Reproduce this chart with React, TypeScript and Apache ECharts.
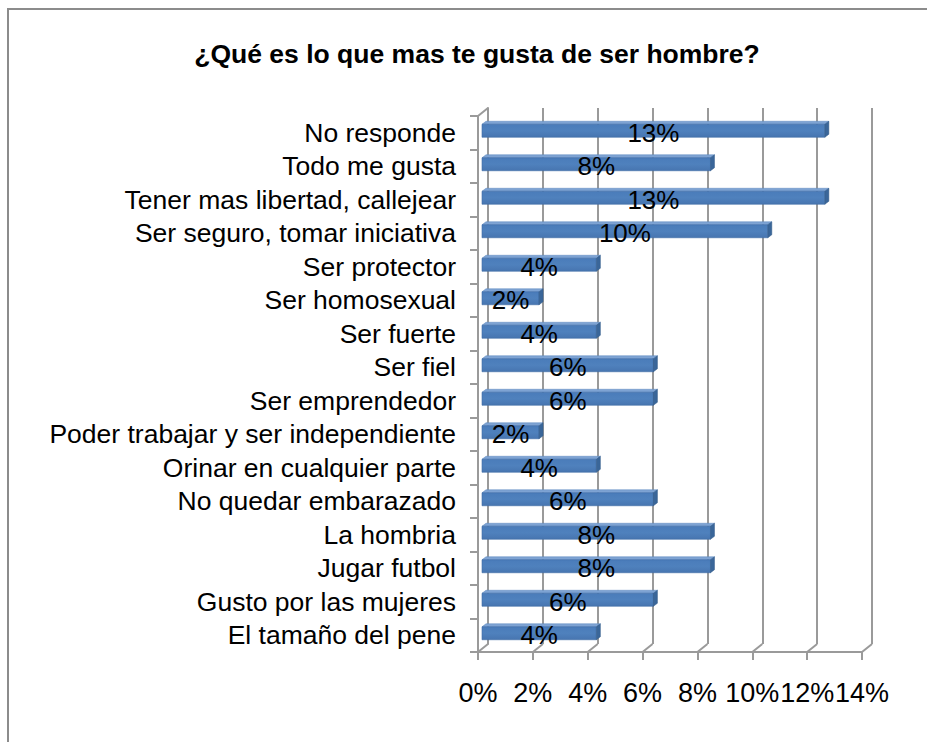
import React, { useEffect, useRef } from "react";
import * as echarts from "echarts";

const titleText = "¿Qué es lo que mas te gusta de ser hombre?";
const categories = [
  "No responde",
  "Todo me gusta",
  "Tener mas libertad, callejear",
  "Ser seguro, tomar iniciativa",
  "Ser protector",
  "Ser homosexual",
  "Ser fuerte",
  "Ser fiel",
  "Ser emprendedor",
  "Poder trabajar y ser independiente",
  "Orinar en cualquier parte",
  "No quedar embarazado",
  "La hombria",
  "Jugar futbol",
  "Gusto por las mujeres",
  "El tamaño del pene",
];
const values = [12.5, 8.33, 12.5, 10.42, 4.17, 2.08, 4.17, 6.25, 6.25, 2.08, 4.17, 6.25, 8.33, 8.33, 6.25, 4.17];
const xTicks = [0, 2, 4, 6, 8, 10, 12, 14];

const FONT = "'Liberation Sans', Arial, sans-serif";
const GRID_COLOR = "#9a9a9a";

export default function App() {
  const ref = useRef<HTMLDivElement>(null);
  useEffect(() => {
    if (!ref.current) return;
    const chart = echarts.init(ref.current, undefined, { renderer: "svg" });
    const last = categories.length - 1;
    const option: any = {
      animation: false,
      backgroundColor: "#ffffff",
      title: {
        text: titleText,
        left: 472,
        top: 35,
        textAlign: "center",
        textStyle: { fontFamily: FONT, fontSize: 26.5, fontWeight: "bold", color: "#000" },
      },
      graphic: [
        {
          type: "rect",
          shape: { x: 8, y: 9, width: 1200, height: 1200 },
          style: { fill: "none", stroke: "#8c8c8c", lineWidth: 2 },
          silent: true,
        },
      ],
      grid: [
        { left: 478, top: 116, width: 384, height: 536 },
        { left: 488, top: 108, width: 384, height: 536 },
      ],
      xAxis: [
        {
          gridIndex: 0,
          type: "value",
          min: 0,
          max: 14,
          interval: 2,
          axisLine: { show: true, lineStyle: { color: GRID_COLOR, width: 2 } },
          axisTick: { show: true, length: 8, lineStyle: { color: GRID_COLOR, width: 2 } },
          splitLine: { show: false },
          axisLabel: {
            formatter: "{value}%",
            margin: 27,
            fontFamily: FONT,
            fontSize: 27,
            color: "#000",
          },
        },
        {
          gridIndex: 1,
          type: "value",
          min: 0,
          max: 14,
          interval: 2,
          axisLine: { show: false },
          axisTick: { show: false },
          axisLabel: { show: false },
          splitLine: { show: true, lineStyle: { color: GRID_COLOR, width: 2 } },
        },
      ],
      yAxis: [
        {
          gridIndex: 0,
          type: "category",
          data: categories,
          inverse: true,
          axisLine: { show: true, lineStyle: { color: GRID_COLOR, width: 2 } },
          axisTick: { show: true, length: 8, interval: 0, lineStyle: { color: GRID_COLOR, width: 2 } },
          axisLabel: { interval: 0, margin: 22, fontFamily: FONT, fontSize: 26.5, color: "#000" },
        },
        {
          gridIndex: 1,
          type: "category",
          data: categories,
          inverse: true,
          axisLine: { show: true, lineStyle: { color: GRID_COLOR, width: 2 } },
          axisTick: { show: false },
          axisLabel: { show: false },
          splitLine: { show: false },
        },
      ],
      series: [
        {
          type: "custom",
          xAxisIndex: 0,
          yAxisIndex: 0,
          silent: true,
          data: [
            ...xTicks.map((t) => [t, last, 1]),
            [0, 0, 0],
          ],
          encode: { x: 0, y: 1 },
          renderItem: (params: any, api: any) => {
            const v = api.value(0);
            const ci = api.value(1);
            const bottom = api.value(2) === 1;
            const p = api.coord([v, ci]);
            const band = api.size([0, 1])[1];
            const y = bottom ? p[1] + band / 2 : p[1] - band / 2;
            return {
              type: "line",
              shape: { x1: p[0], y1: y, x2: p[0] + 10, y2: y - 8 },
              style: { stroke: GRID_COLOR, lineWidth: 2 },
            };
          },
          z: 3,
        },
        {
          type: "custom",
          xAxisIndex: 0,
          yAxisIndex: 0,
          silent: true,
          data: values.map((v, i) => [v, i]),
          encode: { x: 0, y: 1 },
          renderItem: (params: any, api: any) => {
            const v = api.value(0);
            const ci = api.value(1);
            const p0 = api.coord([0, ci]);
            const p1 = api.coord([v, ci]);
            const cy = p0[1];
            const x0 = p0[0] + 4;
            const x1 = p1[0] + 4;
            const yT = cy - 8.5;
            const yB = cy + 4.5;
            const d = 4;
            const dy = 3;
            return {
              type: "group",
              children: [
                {
                  type: "polygon",
                  shape: { points: [[x0, yT], [x1, yT], [x1 + d, yT - dy], [x0 + d, yT - dy]] },
                  style: { fill: "#7ea3d3", stroke: "#5b87bf", lineWidth: 0.5 },
                },
                {
                  type: "rect",
                  shape: { x: x0, y: yT, width: x1 - x0, height: yB - yT },
                  style: {
                    fill: new echarts.graphic.LinearGradient(0, 0, 0, 1, [
                      { offset: 0, color: "#4a7cba" },
                      { offset: 0.5, color: "#4f81bd" },
                      { offset: 1, color: "#4775b0" },
                    ]),
                    stroke: "#3f6ca6",
                    lineWidth: 0.6,
                  },
                },
                {
                  type: "polygon",
                  shape: { points: [[x1, yT], [x1 + d, yT - dy], [x1 + d, yB - dy], [x1, yB]] },
                  style: { fill: "#3a6699", stroke: "#325a89", lineWidth: 0.5 },
                },
                {
                  type: "text",
                  style: {
                    text: Math.round(v) + "%",
                    x: (x0 + x1) / 2,
                    y: cy,
                    align: "center",
                    verticalAlign: "middle",
                    fontFamily: FONT,
                    fontSize: 26,
                    fill: "#000",
                  },
                  z2: 10,
                },
              ],
            };
          },
          z: 5,
        },
      ],
    };
    chart.setOption(option);
    return () => chart.dispose();
  }, []);
  return (
    <div
      ref={ref}
      style={{ position: "fixed", left: 0, top: 0, width: 927, height: 742, background: "#fff" }}
    />
  );
}
